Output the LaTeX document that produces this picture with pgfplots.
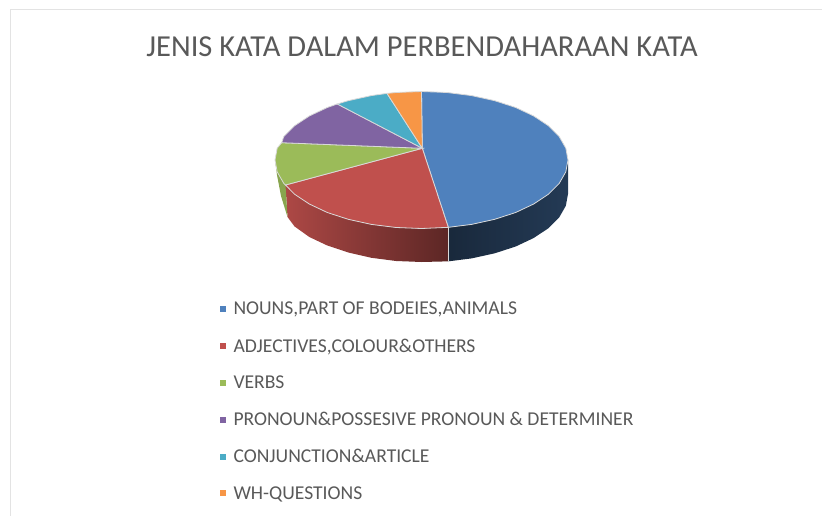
\documentclass[border=0pt]{standalone}
\usepackage{pgfplots}
\pgfplotsset{compat=1.18}
\usepackage{fontspec}
\setmainfont{Carlito}
\definecolor{cblue}{HTML}{4F81BD}
\definecolor{cred}{HTML}{C0504D}
\definecolor{cgreen}{HTML}{9BBB59}
\definecolor{cpurple}{HTML}{8064A2}
\definecolor{ccyan}{HTML}{4BACC6}
\definecolor{corange}{HTML}{F79646}
\definecolor{ctext}{HTML}{595959}
\definecolor{crim}{HTML}{D9D9D9}
\definecolor{cframe}{HTML}{E3E3E3}
\begin{document}
\begin{tikzpicture}
\path[use as bounding box] (0,0) rectangle (822pt,516pt);
\begin{axis}[
  scale only axis, width=822pt, height=516pt,
  xmin=0, xmax=822, ymin=0, ymax=516, y dir=reverse,
  hide axis, clip=false, no markers,
  title={JENIS KATA DALAM PERBENDAHARAAN KATA},
  title style={at={(axis cs:422,53)},anchor=center,font=\fontsize{30.5}{32}\selectfont,text=ctext,inner sep=0pt},
  legend style={at={(axis cs:219.3,300)},anchor=north west,draw=none,fill=none,
    font=\fontsize{19.6}{21}\selectfont,text=ctext,row sep=18.2pt,inner sep=0pt},
  legend cell align=left,
  legend image code/.code={\path[draw=none,fill=none] (0pt,0pt) rectangle (12pt,0pt);\fill[#1,draw=none] (0pt,-3pt) rectangle (6pt,3pt);},
]
% chart frame
\addplot[forget plot,draw=cframe,line width=1pt] coordinates {(10,516)(10,10)(822,10)};
% sides
\addplot[forget plot,draw=none,left color=black!55!cblue!70!black,right color=cblue!45!black] coordinates {
(568,160)(565.8,171.9)(559.2,183.4)(548.4,194.25)(533.7,204)(515.7,212.5)(494.75,219.3)(471.6,224.4)(448.3,227.35)
(448.3,261.35)(471.6,258.4)(494.75,253.3)(515.7,246.5)(533.7,238)(548.4,228.25)(559.2,217.4)(565.8,205.9)(568,194)} -- cycle;
\addplot[forget plot,draw=none,left color=cred!90!black,right color=cred!48!black] coordinates {
(448.3,227.35)(421.5,228.5)(396.1,227.5)(371.4,224.4)(348.25,219.3)(327.3,212.5)(309.3,204)(294.6,194.25)(285.5,185)
(287.5,217)(294.6,226.5)(309.3,237)(327.3,245.5)(348.25,252.5)(371.4,257.8)(396.1,261)(421.5,262)(448.3,261.35)} -- cycle;
\addplot[forget plot,draw=none,fill=cgreen!88!black] coordinates {
(285.5,185)(283.8,183.4)(277.2,171.9)(275,160)(277,175)(281,196)(287.5,217)} -- cycle;
\addplot[forget plot,draw=crim,line width=.8pt] coordinates {(448.3,227.35)(448.3,261.35)};
% top faces
\addplot[draw=crim,line width=.8pt,fill=cblue] coordinates {
(422.3,148.3)(421.5,91.5)(446.9,92.5)(471.6,95.6)(494.75,100.7)(515.7,107.5)(533.7,116)(548.4,125.75)(559.2,136.6)(565.8,148.1)(568,160)(565.8,171.9)(559.2,183.4)(548.4,194.25)(533.7,204)(515.7,212.5)(494.75,219.3)(471.6,224.4)(448.3,227.35)} -- cycle;
\addlegendentry{NOUNS,PART OF BODEIES,ANIMALS}
\addplot[draw=crim,line width=.8pt,fill=cred] coordinates {
(422.3,148.3)(448.3,227.35)(421.5,228.5)(396.1,227.5)(371.4,224.4)(348.25,219.3)(327.3,212.5)(309.3,204)(294.6,194.25)(285.5,185)} -- cycle;
\addlegendentry{ADJECTIVES,COLOUR\&OTHERS}
\addplot[draw=crim,line width=.8pt,fill=cgreen] coordinates {
(422.3,148.3)(285.5,185)(283.8,183.4)(277.2,171.9)(275,160)(277.2,148.1)(281.7,142.7)} -- cycle;
\addlegendentry{VERBS}
\addplot[draw=crim,line width=.8pt,fill=cpurple] coordinates {
(422.3,148.3)(281.7,142.7)(283.8,136.6)(294.6,125.75)(309.3,116)(327.3,107.5)(337.3,104)} -- cycle;
\addlegendentry{PRONOUN\&POSSESIVE PRONOUN \& DETERMINER}
\addplot[draw=crim,line width=.8pt,fill=ccyan] coordinates {
(422.3,148.3)(337.3,104)(348.25,100.7)(371.4,95.6)(387,93.4)} -- cycle;
\addlegendentry{CONJUNCTION\&ARTICLE}
\addplot[draw=crim,line width=.8pt,fill=corange] coordinates {
(422.3,148.3)(387,93.4)(396.1,92.5)(421.5,91.5)} -- cycle;
\addlegendentry{WH-QUESTIONS}
\end{axis}
\end{tikzpicture}
\end{document}
